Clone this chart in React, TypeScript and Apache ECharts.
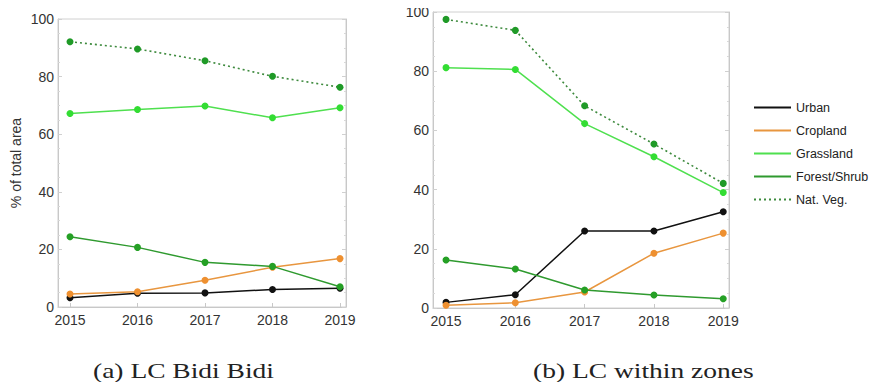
import React, { useEffect, useRef } from "react";
import * as echarts from "echarts";

const years = [2015, 2016, 2017, 2018, 2019];
const seriesNames = ["Urban", "Cropland", "Grassland", "Forest/Shrub", "Nat. Veg."];

// (a) LC Bidi Bidi
const bidiUrban = [3.2, 4.8, 4.9, 6.1, 6.5];
const bidiCropland = [4.5, 5.3, 9.3, 13.8, 16.8];
const bidiGrassland = [67.2, 68.6, 69.8, 65.7, 69.2];
const bidiForest = [24.4, 20.7, 15.5, 14.1, 7.0];
const bidiNatVeg = [92.1, 89.6, 85.5, 80.1, 76.3];

// (b) LC within zones
const zonesUrban = [1.9, 4.5, 26.0, 26.0, 32.5];
const zonesCropland = [0.9, 1.8, 5.4, 18.5, 25.3];
const zonesGrassland = [81.2, 80.6, 62.3, 51.1, 39.0];
const zonesForest = [16.2, 13.2, 6.1, 4.4, 3.1];
const zonesNatVeg = [97.5, 93.8, 68.3, 55.4, 42.1];

const captions = ["(a) LC Bidi Bidi", "(b) LC within zones"];
const yAxisTitle = "% of total area";

const lineColors = ["#111111", "#e8963f", "#4fe04f", "#2f9a2f", "#3d8a3d"];
const markerColors = ["#111111", "#ee9030", "#33dd33", "#25a025", "#1f9a27"];

const FONT = "'Liberation Sans', Arial, sans-serif";
const SERIF = "'Liberation Serif', 'Times New Roman', serif";

export default function App() {
  const ref = useRef<HTMLDivElement>(null);
  useEffect(() => {
    if (!ref.current) return;
    const chart = echarts.init(ref.current, null, { renderer: "svg" });
    const sets = [
      [bidiUrban, bidiCropland, bidiGrassland, bidiForest, bidiNatVeg],
      [zonesUrban, zonesCropland, zonesGrassland, zonesForest, zonesNatVeg],
    ];
    const series: any[] = [];
    sets.forEach((set, gi) => {
      set.forEach((vals, si) => {
        series.push({
          name: seriesNames[si],
          type: "line",
          xAxisIndex: gi,
          yAxisIndex: gi * 2,
          data: years.map((y, i) => [y, vals[i]]),
          symbol: "circle",
          symbolSize: 7,
          z: si === 4 ? 3 : 2 + si * 0.01,
          lineStyle: {
            color: lineColors[si],
            width: si === 4 ? 1.6 : 1.5,
            type: si === 4 ? [2, 3] : "solid",
          },
          itemStyle: { color: markerColors[si] },
          emphasis: { disabled: true },
        });
      });
    });

    const xAxis = (gi: number, min: number, max: number) => ({
      type: "value",
      gridIndex: gi,
      min,
      max,
      axisLine: { show: true, lineStyle: { color: "#c8c8c8" } },
      axisTick: {
        show: true,
        inside: true,
        length: 4,
        customValues: years,
        lineStyle: { color: "#c8c8c8" },
      },
      axisLabel: {
        customValues: years,
        formatter: (v: number) => String(Math.round(v)),
        fontSize: 14,
        color: "#333",
        fontFamily: FONT,
        margin: 6,
      },
      splitLine: { show: false },
    });
    const yAxisMain = (gi: number, withName: boolean) => ({
      type: "value",
      gridIndex: gi,
      min: 0,
      max: 100,
      interval: 20,
      name: withName ? yAxisTitle : "",
      nameLocation: "middle",
      nameRotate: 90,
      nameGap: 35,
      nameTextStyle: { fontSize: 14, color: "#333", fontFamily: FONT },
      axisLine: { show: true, lineStyle: { color: "#c8c8c8" } },
      axisTick: { show: true, inside: true, length: 4, lineStyle: { color: "#d0d0d0" } },
      minorTick: { show: true, splitNumber: 4, length: 2, lineStyle: { color: "#d8d8d8" } },
      axisLabel: { fontSize: 14, color: "#333", fontFamily: FONT, margin: 4 },
      splitLine: { show: false },
    });
    const yAxisMirror = (gi: number) => ({
      type: "value",
      gridIndex: gi,
      position: "right",
      min: 0,
      max: 100,
      interval: 20,
      axisLine: { show: true, lineStyle: { color: "#c8c8c8" } },
      axisTick: { show: true, inside: true, length: 4, lineStyle: { color: "#d0d0d0" } },
      minorTick: { show: true, splitNumber: 4, length: 2, lineStyle: { color: "#d8d8d8" } },
      axisLabel: { show: false },
      splitLine: { show: false },
    });

    chart.setOption({
      animation: false,
      backgroundColor: "#ffffff",
      grid: [
        { left: 58, top: 19, width: 288, height: 288, show: true, borderColor: "#d0d0d0", borderWidth: 1 },
        { left: 433, top: 12, width: 296, height: 296, show: true, borderColor: "#d0d0d0", borderWidth: 1 },
      ],
      xAxis: [xAxis(0, 2014.822, 2019.089), xAxis(1, 2014.812, 2019.083)],
      yAxis: [yAxisMain(0, true), yAxisMirror(0), yAxisMain(1, false), yAxisMirror(1)],
      legend: {
        orient: "vertical",
        left: 753,
        top: 101,
        padding: 0,
        itemWidth: 37,
        itemHeight: 14,
        itemGap: 10,
        data: seriesNames,
        itemStyle: { opacity: 0 },
        textStyle: { fontSize: 12.5, color: "#222", fontFamily: FONT },
        selectedMode: false,
      },
      graphic: [
        {
          type: "text",
          x: 93,
          y: 370,
          scaleX: 1.25,
          style: {
            text: captions[0],
            fontSize: 22,
            fontFamily: SERIF,
            fill: "#222",
            textAlign: "left",
            textVerticalAlign: "middle",
          },
        },
        {
          type: "text",
          x: 533,
          y: 370,
          scaleX: 1.25,
          style: {
            text: captions[1],
            fontSize: 22,
            fontFamily: SERIF,
            fill: "#222",
            textAlign: "left",
            textVerticalAlign: "middle",
          },
        },
      ],
      series,
    });
    return () => chart.dispose();
  }, []);
  return <div ref={ref} style={{ width: 877, height: 390, margin: -8 }} />;
}
